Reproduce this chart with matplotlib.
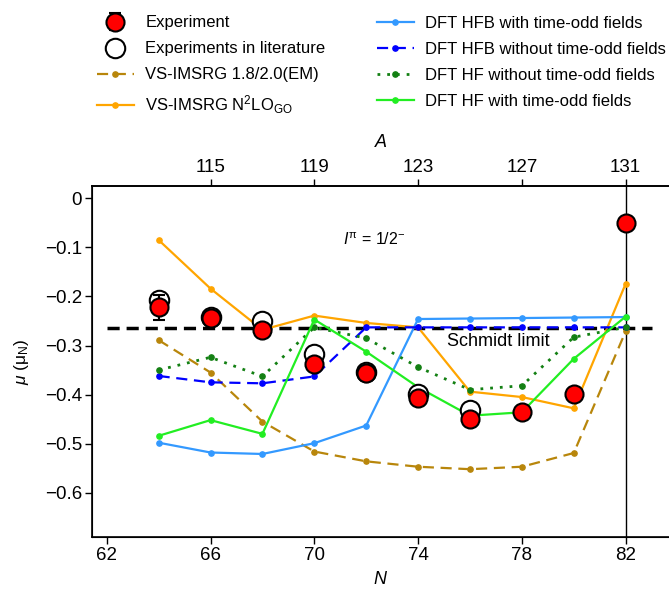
import matplotlib
matplotlib.use("Agg")
import matplotlib.pyplot as plt
from matplotlib.ticker import FixedLocator, FuncFormatter

plt.rcParams['font.family'] = ['Liberation Sans', 'DejaVu Sans']
plt.rcParams['mathtext.fontset'] = 'custom'
plt.rcParams['mathtext.rm'] = 'Liberation Sans'
plt.rcParams['mathtext.it'] = 'Liberation Sans:italic'
plt.rcParams['mathtext.bf'] = 'Liberation Sans:bold'
plt.rcParams['font.size'] = 12

N = [64, 66, 68, 70, 72, 74, 76, 78, 80, 82]
exp_mu = [-0.222, -0.244, -0.269, -0.337, -0.357, -0.407, -0.449, -0.436, -0.399, -0.050]
exp_err = [0.025, 0.004, 0.004, 0.006, 0.004, 0.005, 0.010, 0.004, 0.004, 0.004]
lit_N = [64, 66, 68, 70, 72, 74, 76]
lit_mu = [-0.208, -0.242, -0.251, -0.317, -0.353, -0.399, -0.431]
vs18 = [-0.289, -0.355, -0.455, -0.516, -0.536, -0.547, -0.552, -0.547, -0.519, -0.271]
vsn2lo = [-0.085, -0.184, -0.268, -0.239, -0.254, -0.263, -0.394, -0.405, -0.428, -0.174]
hfb_with = [-0.498, -0.518, -0.521, -0.499, -0.463, -0.246, -0.245, -0.244, -0.243, -0.242]
hfb_without = [-0.362, -0.375, -0.377, -0.363, -0.263, -0.263, -0.263, -0.263, -0.263, -0.263]
hf_without = [-0.350, -0.324, -0.363, -0.263, -0.285, -0.344, -0.390, -0.382, -0.283, -0.263]
hf_with = [-0.484, -0.452, -0.480, -0.247, -0.3125, -0.385, -0.443, -0.436, -0.327, -0.241]
schmidt = -0.264
A_ticks = [115, 119, 123, 127, 131]
N_ticks = [62, 66, 70, 74, 78, 82]
y_ticks = [0, -0.1, -0.2, -0.3, -0.4, -0.5, -0.6]

fig = plt.figure(figsize=(6.69, 5.90), dpi=100)
ax = fig.add_axes([0.138, 0.0903, 0.862, 0.5944])

ax.axvline(82, color='black', lw=1.0, zorder=1)
ax.hlines(schmidt, 62, 83, colors='black', linestyles=(0, (3.5, 2.0)), lw=2.5, zorder=2)

ms = 3.8
l1, = ax.plot(N, vs18, color='#B8860B', ls=(0, (5, 3)), lw=1.6, marker='o', ms=ms, zorder=3)
l2, = ax.plot(N, vsn2lo, color='#FFA500', ls='-', lw=1.6, marker='o', ms=ms, zorder=3)
l3, = ax.plot(N, hfb_with, color='#3399FF', ls='-', lw=1.6, marker='o', ms=ms, zorder=3)
l4, = ax.plot(N, hfb_without, color='#0000FF', ls=(0, (5, 3)), lw=1.6, marker='o', ms=ms, zorder=3)
l5, = ax.plot(N, hf_without, color='#138013', ls=(0, (1, 2.5)), lw=2.0, marker='o', ms=ms, zorder=3)
l6, = ax.plot(N, hf_with, color='#22EE22', ls='-', lw=1.6, marker='o', ms=ms, zorder=3)

lit = ax.plot(lit_N, lit_mu, ls='none', marker='o', ms=14, mfc='white', mec='black', mew=1.5,
              zorder=4)[0]
ex = ax.errorbar(N, exp_mu, yerr=exp_err, fmt='o', ms=13, mfc='#FF0000', mec='black', mew=1.5,
                 ecolor='black', elinewidth=1.5, capsize=4, capthick=1.5, zorder=5)

ax.text(71.1, -0.085, r'$I^{\rm \pi}$ = 1/2$^{−}$', fontsize=11.5, va='center', ha='left')
ax.text(77.1, -0.291, 'Schmidt limit', fontsize=13, va='center', ha='center')

ax.set_xlim(61.445, 83.67)
ax.set_ylim(-0.6896, 0.025)
ax.xaxis.set_major_locator(FixedLocator(N_ticks))
ax.yaxis.set_major_locator(FixedLocator(y_ticks))
ax.yaxis.set_major_formatter(FuncFormatter(lambda v, p: '0' if abs(v) < 1e-9 else ('%.1f' % v).replace('-', '\u2212')))
ax.spines['right'].set_visible(False)
for s in ['left', 'bottom', 'top']:
    ax.spines[s].set_linewidth(1.2)
ax.tick_params(direction='out', length=5, width=1.0, labelsize=13.5, pad=2.5)
ax.set_xlabel(r'$N$', fontsize=13, labelpad=5)
ax.set_ylabel(r'$\mu$ (μ$_{\rm N}$)', fontsize=12.5, labelpad=10)

ax2 = ax.twiny()
ax2.set_xlim(ax.get_xlim())
ax2.xaxis.set_major_locator(FixedLocator([a - 49 for a in A_ticks]))
ax2.set_xticklabels([str(a) for a in A_ticks])
ax2.tick_params(direction='out', length=5, width=1.0, labelsize=13.5, pad=2)
ax2.spines['right'].set_visible(False)
ax2.spines['top'].set_linewidth(1.2)
ax2.set_xlabel(r'$A$', fontsize=13, labelpad=9)

handles = [ex, lit, l1, l2, l3, l4, l5, l6]
labels = ['Experiment', 'Experiments in literature', 'VS-IMSRG 1.8/2.0(EM)', r'VS-IMSRG N$^2$LO$_{\rm GO}$',
          'DFT HFB with time-odd fields', 'DFT HFB without time-odd fields',
          'DFT HF without time-odd fields', 'DFT HF with time-odd fields']
fig.legend(handles, labels, loc='upper left', bbox_to_anchor=(97 / 669, 1 - 15.5 / 590), ncol=2,
           frameon=False, fontsize=12, handlelength=2.2, columnspacing=3.1, labelspacing=0.66,
           borderaxespad=0, borderpad=0, handletextpad=0.7)

fig.savefig('out.png', dpi=100)
